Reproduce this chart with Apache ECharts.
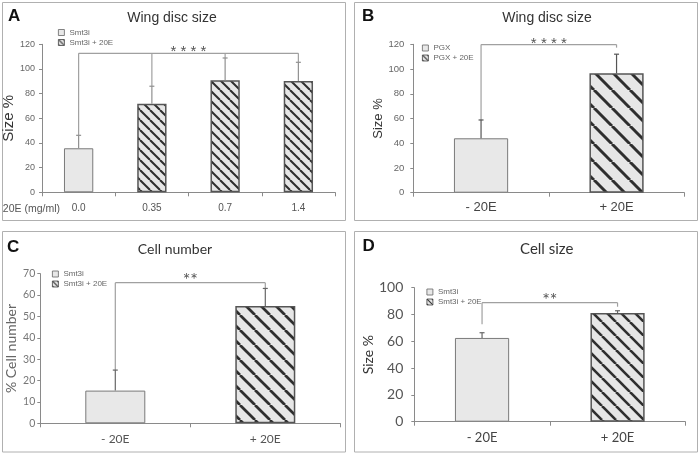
<!DOCTYPE html>
<html><head><meta charset="utf-8">
<script src="https://cdn.jsdelivr.net/npm/echarts@6/dist/echarts.min.js"></script>
<style>html,body{margin:0;padding:0;background:#fff}#c{width:700px;height:453px}</style>
</head><body><div id="c"></div>
<script>
// ---------- DATA ----------
// Panel A
const catsA = ['0.0', '0.35', '0.7', '1.4'];
const plainA = [35.7, '-', '-', '-'];
const hatchA = ['-', 71.8, 90.8, 90.2];
const errA = [46.2, 86, 108.9, 105.4];
const dropsA = [[0, 46.2], [1, 86], [2, 108.9], [3, 105.4]];
const levelA = 112.7;
const starsA = '* * * *';
const legendA = ['Smt3i', 'Smt3i + 20E'];
// Panel B
const catsB = ['- 20E', '+ 20E'];
const plainB = [44, '-'];
const hatchB = ['-', 96.5];
const errB = [58.8, 112];
const dropsB = [[0, 58.8], [1, 117.3]];
const levelB = 119.8;
const starsB = '* * * *';
const legendB = ['PGX', 'PGX + 20E'];
// Panel C
const catsC = ['- 20E', '+ 20E'];
const plainC = [15.3, '-'];
const hatchC = ['-', 54.9];
const errC = [24.9, 63.1];
const dropsC = [[0, 24.9], [1, 63.1]];
const levelC = 65.8;
const starsC = '**';
const legendC = ['Smt3i', 'Smt3i + 20E'];
// Panel D
const catsD = ['- 20E', '+ 20E'];
const plainD = [62.5, '-'];
const hatchD = ['-', 81.1];
const errD = [66.4, 82.8];
const dropsD = [[0, 72.7], [1, 85.8]];
const levelD = 88.8;
const starsD = '**';
const legendD = ['Smt3i', 'Smt3i + 20E'];
// Axis ticks
const yMaxA = 120, yStepA = 20;
const yMaxB = 120, yStepB = 20;
const yMaxC = 70, yStepC = 10;
const yMaxD = 100, yStepD = 20;

// ---------- STYLE HELPERS ----------
const FA = "'Liberation Sans', Arial, sans-serif";
const FC = "Lato, 'Liberation Sans', sans-serif";

function hatch(s, lw) {
  const c = document.createElement('canvas'); c.width = s; c.height = s;
  const g = c.getContext('2d');
  g.fillStyle = '#e6e6e6'; g.fillRect(0, 0, s, s);
  g.strokeStyle = '#2e2e2e'; g.lineWidth = lw;
  for (const k of [-s, 0, s]) { g.beginPath(); g.moveTo(k, 0); g.lineTo(k + s, s); g.stroke(); }
  return { image: c, repeat: 'repeat' };
}

function errRender(color) {
  return function (params, api) {
    const a = api.coord([api.value(0), api.value(1)]);
    const b = api.coord([api.value(0), api.value(2)]);
    return { type: 'group', children: [
      { type: 'line', shape: { x1: a[0], y1: a[1], x2: b[0], y2: b[1] }, style: { stroke: color, lineWidth: 1.2 } },
      { type: 'line', shape: { x1: b[0] - 2.5, y1: b[1], x2: b[0] + 2.5, y2: b[1] }, style: { stroke: color, lineWidth: 1.2 } }
    ] };
  };
}

function bracketRender(level, first, last, text, fontSize, family, dy) {
  return function (params, api) {
    const bot = api.coord([api.value(0), api.value(1)]);
    const top = api.coord([api.value(0), level]);
    const ch = [{ type: 'line', shape: { x1: bot[0], y1: bot[1], x2: top[0], y2: top[1] }, style: { stroke: '#a0a0a0', lineWidth: 1.2 } }];
    if (params.dataIndex === 0) {
      const p0 = api.coord([first, level]), p1 = api.coord([last, level]);
      ch.push({ type: 'line', shape: { x1: p0[0], y1: p0[1], x2: p1[0], y2: p1[1] }, style: { stroke: '#a0a0a0', lineWidth: 1.2 } });
      ch.push({ type: 'text', x: (p0[0] + p1[0]) / 2, y: p0[1] + dy,
        style: { text: text, fill: '#555', fontSize: fontSize, fontFamily: family, align: 'center', verticalAlign: 'middle' } });
    }
    return { type: 'group', children: ch };
  };
}

const panels = [
  { cats: catsA, plain: plainA, hatchv: hatchA, err: errA, drops: dropsA, level: levelA, stars: starsA, names: legendA,
    grid: { left: 42, top: 44.3, width: 293, height: 148 }, yMax: yMaxA, yStep: yStepA, pat: 10, lw: 2,
    font: FA, yName: 'Size %', yNameSize: 15, yNameGap: 19, yNameColor: '#333', yLabSize: 9, yLabColor: '#666', yLabMargin: 7,
    xLabSize: 10, xLabColor: '#555', xLabMargin: 11, starSize: 15, starFont: FA, starDy: -1,
    legend: { left: 53, top: 23.5 }, errColor: '#909090' },
  { cats: catsB, plain: plainB, hatchv: hatchB, err: errB, drops: dropsB, level: levelB, stars: starsB, names: legendB,
    grid: { left: 413.3, top: 44.3, width: 271, height: 148.4 }, yMax: yMaxB, yStep: yStepB, pat: 18, lw: 3,
    font: FA, yName: 'Size %', yNameSize: 13, yNameGap: 25, yNameColor: '#333', yLabSize: 9.5, yLabColor: '#666', yLabMargin: 9,
    xLabSize: 13, xLabColor: '#444', xLabMargin: 8, starSize: 15, starFont: FA, starDy: -1,
    legend: { left: 417, top: 39 }, errColor: '#555' },
  { cats: catsC, plain: plainC, hatchv: hatchC, err: errC, drops: dropsC, level: levelC, stars: starsC, names: legendC,
    grid: { left: 40.3, top: 273.7, width: 300, height: 149.6 }, yMax: yMaxC, yStep: yStepC, pat: 15, lw: 2.7,
    font: FC, yName: '% Cell number', yNameSize: 14, yNameGap: 22, yNameColor: '#666', yLabSize: 10.5, yLabColor: '#777', yLabMargin: 5,
    xLabSize: 12, xLabColor: '#555', xLabMargin: 10, starSize: 18, starFont: FC, starDy: -2,
    legend: { left: 47, top: 265 }, errColor: '#666' },
  { cats: catsD, plain: plainD, hatchv: hatchD, err: errD, drops: dropsD, level: levelD, stars: starsD, names: legendD,
    grid: { left: 414.3, top: 287.7, width: 271, height: 134 }, yMax: yMaxD, yStep: yStepD, pat: 14, lw: 2.6,
    font: FC, yName: 'Size %', yNameSize: 14, yNameGap: 35, yNameColor: '#333', yLabSize: 14, yLabColor: '#555', yLabMargin: 11,
    xLabSize: 13, xLabColor: '#444', xLabMargin: 9.5, starSize: 18, starFont: FC, starDy: -3,
    legend: { left: 421.5, top: 283 }, errColor: '#666' }
];

const grid = [], xAxis = [], yAxis = [], series = [], legend = [];
panels.forEach((p, i) => {
  grid.push(Object.assign({ containLabel: false }, p.grid));
  xAxis.push({
    type: 'category', gridIndex: i, data: p.cats,
    axisLine: { lineStyle: { color: '#8a8a8a', width: 1 } },
    axisTick: { show: true, length: 4, lineStyle: { color: '#8a8a8a' } },
    axisLabel: { interval: 0, margin: p.xLabMargin, fontSize: p.xLabSize, color: p.xLabColor, fontFamily: p.font },
    name: i === 0 ? '20E (mg/ml)' : '', nameLocation: 'start', nameGap: -18,
    nameTextStyle: { align: 'right', verticalAlign: 'top', padding: [11, 0, 0, 0], fontSize: 10.5, color: '#555', fontFamily: FA }
  });
  yAxis.push({
    type: 'value', gridIndex: i, min: 0, max: p.yMax, interval: p.yStep,
    splitLine: { show: false },
    axisLine: { show: true, lineStyle: { color: '#8a8a8a', width: 1 } },
    axisTick: { show: true, length: 3, lineStyle: { color: '#8a8a8a' } },
    axisLabel: { margin: p.yLabMargin, fontSize: p.yLabSize, color: p.yLabColor, fontFamily: p.font },
    name: p.yName, nameLocation: 'middle', nameGap: p.yNameGap,
    nameTextStyle: { fontSize: p.yNameSize, color: p.yNameColor, fontFamily: p.font }
  });
  series.push({
    type: 'bar', name: p.names[0], xAxisIndex: i, yAxisIndex: i, data: p.plain, barWidth: '40%', barGap: '-100%',
    itemStyle: { color: '#e8e8e8', borderColor: '#7a7a7a', borderWidth: 1 }, silent: true
  });
  series.push({
    type: 'bar', name: p.names[1], xAxisIndex: i, yAxisIndex: i, data: p.hatchv, barWidth: '40%', barGap: '-100%',
    itemStyle: { color: hatch(p.pat, p.lw), borderColor: '#555', borderWidth: 1.5 }, silent: true
  });
  const tops = p.cats.map((c, k) => [k, p.plain[k] !== '-' ? p.plain[k] : p.hatchv[k], p.err[k]]);
  series.push({ type: 'custom', name: 'err' + i, xAxisIndex: i, yAxisIndex: i, data: tops, renderItem: errRender(p.errColor), silent: true, z: 3 });
  series.push({ type: 'custom', name: 'sig' + i, xAxisIndex: i, yAxisIndex: i, data: p.drops,
    renderItem: bracketRender(p.level, p.drops[0][0], p.drops[p.drops.length - 1][0], p.stars, p.starSize, p.starFont, p.starDy), silent: true, z: 2 });
  legend.push({
    left: p.legend.left, top: p.legend.top, orient: 'vertical', itemWidth: 6, itemHeight: 6, itemGap: 2,
    selectedMode: false,
    textStyle: { fontSize: 8, color: '#666', fontFamily: FA, lineHeight: 8 },
    data: [
      { name: p.names[0], icon: 'rect', itemStyle: { color: '#e8e8e8', borderColor: '#666', borderWidth: 0.8 } },
      { name: p.names[1], icon: 'rect', itemStyle: { color: hatch(5, 1.1), borderColor: '#444', borderWidth: 0.8 } }
    ]
  });
});

const border = { stroke: '#b0b0b0', lineWidth: 1, fill: 'none' };
const graphic = [
  { type: 'rect', shape: { x: 2.5, y: 2.5, width: 343, height: 218 }, style: border, silent: true },
  { type: 'rect', shape: { x: 354.5, y: 2.5, width: 343, height: 218 }, style: border, silent: true },
  { type: 'rect', shape: { x: 2.5, y: 231.5, width: 343, height: 220.5 }, style: border, silent: true },
  { type: 'rect', shape: { x: 354.5, y: 231.5, width: 343, height: 220.5 }, style: border, silent: true },
  { type: 'text', x: 8, y: 16, style: { text: 'A', fontSize: 17, fontWeight: 'bold', fontFamily: FA, fill: '#111', verticalAlign: 'middle' } },
  { type: 'text', x: 362, y: 16, style: { text: 'B', fontSize: 17, fontWeight: 'bold', fontFamily: FA, fill: '#111', verticalAlign: 'middle' } },
  { type: 'text', x: 7, y: 247, style: { text: 'C', fontSize: 17, fontWeight: 'bold', fontFamily: FA, fill: '#111', verticalAlign: 'middle' } },
  { type: 'text', x: 362.5, y: 246, style: { text: 'D', fontSize: 17, fontWeight: 'bold', fontFamily: FA, fill: '#111', verticalAlign: 'middle' } },
  { type: 'text', x: 172, y: 18.3, style: { text: 'Wing disc size', fontSize: 14, fontFamily: FA, fill: '#333', align: 'center', verticalAlign: 'middle' } },
  { type: 'text', x: 547, y: 18.3, style: { text: 'Wing disc size', fontSize: 14, fontFamily: FA, fill: '#333', align: 'center', verticalAlign: 'middle' } },
  { type: 'text', x: 175, y: 249.3, style: { text: 'Cell number', fontSize: 14, fontFamily: FC, fill: '#333', align: 'center', verticalAlign: 'middle' } },
  { type: 'text', x: 546.7, y: 248.7, style: { text: 'Cell size', fontSize: 15, fontFamily: FC, fill: '#333', align: 'center', verticalAlign: 'middle' } }
];

const chart = echarts.init(document.getElementById('c'), null, { renderer: 'canvas' });
chart.setOption({ animation: false, backgroundColor: '#fff', grid, xAxis, yAxis, series, legend, graphic });
</script>
</body></html>
